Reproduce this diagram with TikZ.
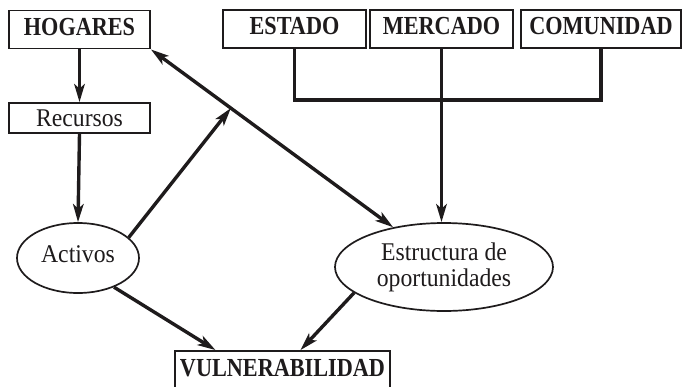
\documentclass[tikz,border=0pt]{standalone}
\usepackage{fontspec}
\setmainfont{Liberation Serif}
\newfontfamily\bcfont{Liberation Serif}[FakeStretch=0.855]
\newfontfamily\rgfont{Liberation Serif}[FakeStretch=0.93]
\usetikzlibrary{arrows.meta,calc,shapes.geometric}
\definecolor{ink}{RGB}{30,27,28}
\begin{document}
\begin{tikzpicture}[x=1pt,y=-1pt,
  bigbox/.style={draw=ink, line width=1.9pt, inner sep=0pt, minimum height=38pt,
    font=\bcfont\bfseries\fontsize{26}{27}\selectfont, text=ink,
    text height=17pt, text depth=5.5pt},
  smallbox/.style={draw=ink, line width=1.8pt, inner sep=0pt,
    font=\rgfont\fontsize{25.5}{26}\selectfont, text=ink},
  oval/.style={ellipse, draw=ink, line width=1.7pt, inner sep=0pt, align=center,
    font=\rgfont\fontsize{25.5}{26}\selectfont, text=ink},
  arr/.style={draw=ink, line width=3.4pt, -{Stealth[length=18pt,width=10.5pt,inset=4.5pt]}},
  dblarr/.style={draw=ink, line width=3.4pt,
    {Stealth[length=18pt,width=10.5pt,inset=4.5pt]}-{Stealth[length=18pt,width=10.5pt,inset=4.5pt]}},
  bar/.style={draw=ink, line width=3.4pt, line cap=rect}
]
\useasboundingbox (0,0) rectangle (683,386);
\fill[white] (0,0) rectangle (683,386);

\node[bigbox, minimum width=141pt] (hog) at (79.5,29.5) {HOGARES};
\node[bigbox, minimum width=143pt] (sta) at (294.5,29) {ESTADO};
\node[bigbox, minimum width=143pt] (mer) at (441.5,29) {MERCADO};
\node[bigbox, minimum width=160pt] (com) at (601,29) {COMUNIDAD};
\node[smallbox, minimum width=141pt, minimum height=30pt] (rec) at (79.5,118) {Recursos};
\node[oval, minimum width=122pt, minimum height=70pt, text height=17pt, text depth=9pt] (act) at (78,258) {Activos};
\node[oval, minimum width=218pt, minimum height=88pt] (est) at (444,267) {Estructura de\\oportunidades};
\node[bigbox, minimum width=215pt, minimum height=40pt] (vul) at (282.5,371) {VULNERABILIDAD};

% bracket from ESTADO / COMUNIDAD
\coordinate (bl) at ($(sta.south)+(0,51)$);
\draw[bar] (sta.south) -- (bl) -- (bl -| com.south) -- (com.south);
\draw[arr] (mer.south) -- (mer.south |- est.north);

% left column
\draw[arr] (hog.south) -- (rec.north);
\draw[arr] (rec.south) -- (act.north);

% diagonal double arrow
\draw[dblarr] (hog.south east) -- (est.142);
\coordinate (m) at ($(hog.south east)!0.33!(est.142)$);
\draw[arr] (act.22) -- (m);

% to vulnerabilidad
\draw[arr] (act.-39) -- ([xshift=-67pt]vul.north);
\draw[arr] (est.196) -- ([xshift=18pt]vul.north);
\end{tikzpicture}
\end{document}
